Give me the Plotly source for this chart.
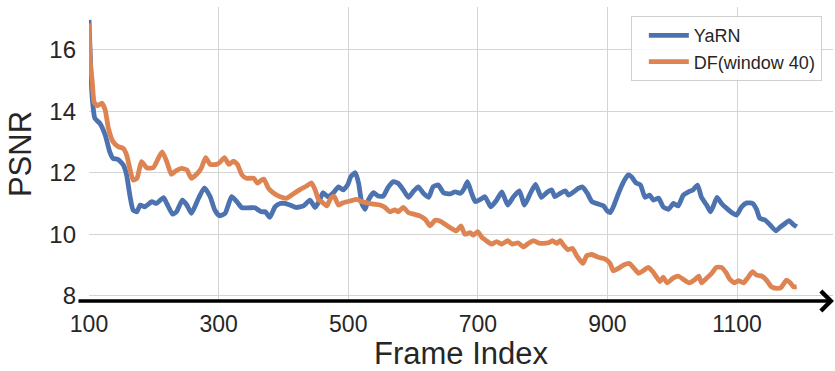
import plotly.graph_objects as go

# Frame indices and PSNR values for each method
yarn_frames = [100, 103, 105, 109, 117, 125, 132, 137, 145, 153, 158, 163, 168, 174, 179, 186, 197, 204,
               215, 220, 229, 235, 244, 251, 258, 269, 278, 287, 294, 301, 310, 320, 328, 336, 346, 356,
               361, 366, 372, 379, 387, 395, 402, 410, 420, 431, 441, 449, 456, 461, 469, 477, 485, 492,
               499, 504, 511, 516, 521, 526, 531, 539, 546, 554, 562, 570, 577, 585, 593, 600, 608, 616,
               624, 631, 639, 647, 657, 665, 673, 679, 684, 690, 696, 704, 711, 720, 729, 737, 746, 755,
               764, 772, 781, 789, 798, 806, 814, 819, 827, 835, 840, 848, 855, 861, 869, 876, 886, 894,
               899, 904, 909, 917, 925, 932, 937, 944, 951, 958, 965, 971, 979, 986, 994, 1002, 1009,
               1017, 1025, 1032, 1039, 1045, 1053, 1059, 1064, 1069, 1076, 1084, 1092, 1099, 1107, 1115,
               1124, 1130, 1135, 1143, 1151, 1160, 1166, 1174, 1180, 1186, 1192]
yarn_psnr = [16.97, 15.2, 14.42, 13.77, 13.6, 13.23, 12.68, 12.47, 12.43, 12.25, 11.93, 11.27, 10.79,
             10.73, 10.95, 10.89, 11.06, 11.0, 11.19, 11.0, 10.65, 10.73, 11.11, 10.95, 10.68, 11.17,
             11.51, 11.22, 10.79, 10.6, 10.68, 11.22, 11.06, 10.86, 10.86, 10.86, 10.79, 10.73, 10.73,
             10.55, 10.89, 11.0, 11.0, 10.95, 10.87, 10.92, 11.11, 10.87, 11.11, 11.35, 11.22, 11.35,
             11.54, 11.44, 11.6, 11.87, 12.0, 11.66, 11.0, 10.81, 11.11, 11.35, 11.24, 11.24, 11.54,
             11.71, 11.66, 11.44, 11.2, 11.38, 11.54, 11.33, 11.2, 11.54, 11.6, 11.35, 11.31, 11.38,
             11.33, 11.49, 11.71, 11.35, 11.06, 11.13, 11.22, 10.89, 11.11, 11.38, 10.95, 11.22, 11.41,
             10.95, 11.33, 11.62, 11.2, 11.35, 11.44, 11.22, 11.33, 11.41, 11.27, 11.38, 11.49, 11.54,
             11.33, 11.06, 10.98, 10.92, 10.77, 10.7, 10.89, 11.33, 11.71, 11.93, 11.87, 11.67, 11.6,
             11.2, 11.27, 11.11, 11.17, 10.89, 10.81, 11.0, 10.92, 11.27, 11.38, 11.44, 11.6, 11.2,
             10.95, 10.73, 10.95, 11.2, 11.0, 10.84, 10.7, 10.62, 10.89, 11.02, 11.0, 10.81, 10.52,
             10.46, 10.3, 10.11, 10.22, 10.35, 10.44, 10.33, 10.24]

df_frames = [100, 102, 105, 108, 113, 120, 125, 130, 137, 145, 153, 158, 163, 168, 174, 181, 189, 199,
             207, 213, 220, 227, 234, 243, 251, 258, 266, 273, 280, 287, 297, 302, 309, 316, 323, 329,
             336, 343, 354, 360, 366, 370, 377, 384, 395, 405, 415, 426, 436, 443, 449, 454, 461, 467,
             473, 478, 485, 492, 503, 513, 521, 529, 539, 549, 557, 564, 572, 577, 585, 593, 600, 611,
             619, 626, 634, 642, 651, 659, 667, 674, 680, 688, 693, 700, 706, 713, 721, 729, 737, 746,
             753, 762, 770, 778, 786, 793, 801, 809, 815, 822, 827, 832, 839, 846, 852, 862, 868, 876,
             886, 896, 904, 909, 917, 925, 934, 941, 948, 955, 963, 970, 976, 981, 986, 992, 1001,
             1009, 1017, 1026, 1034, 1041, 1045, 1053, 1061, 1068, 1076, 1083, 1089, 1096, 1102, 1110,
             1116, 1124, 1130, 1138, 1146, 1153, 1161, 1168, 1176, 1182, 1187, 1192]
df_psnr = [16.85, 15.6, 14.96, 14.29, 14.18, 14.26, 14.04, 13.44, 13.01, 12.85, 12.79, 12.58, 12.14,
           11.76, 11.82, 12.36, 12.16, 12.16, 12.47, 12.68, 12.36, 11.95, 12.06, 12.14, 12.09, 11.82,
           11.95, 12.14, 12.49, 12.27, 12.27, 12.34, 12.49, 12.27, 12.38, 12.27, 11.93, 11.82, 11.82,
           11.66, 11.76, 11.79, 11.49, 11.35, 11.22, 11.17, 11.31, 11.46, 11.57, 11.67, 11.44, 11.13,
           11.02, 10.92, 11.17, 11.24, 10.95, 11.02, 11.08, 11.13, 11.06, 11.02, 10.98, 10.95, 10.87,
           10.73, 10.79, 10.73, 10.87, 10.7, 10.66, 10.59, 10.48, 10.27, 10.45, 10.42, 10.3, 10.19,
           10.11, 10.27, 10.0, 10.05, 9.97, 10.08, 9.9, 9.79, 9.68, 9.76, 9.68, 9.79, 9.68, 9.72, 9.59,
           9.7, 9.79, 9.72, 9.7, 9.72, 9.79, 9.7, 9.79, 9.65, 9.5, 9.54, 9.32, 9.05, 9.3, 9.34, 9.25,
           9.2, 9.05, 8.81, 8.89, 9.0, 9.05, 8.89, 8.73, 8.81, 8.92, 8.78, 8.6, 8.46, 8.6, 8.42, 8.57,
           8.64, 8.53, 8.42, 8.51, 8.64, 8.42, 8.57, 8.73, 8.92, 8.92, 8.75, 8.53, 8.42, 8.49, 8.42,
           8.57, 8.78, 8.67, 8.64, 8.49, 8.29, 8.24, 8.27, 8.51, 8.42, 8.29, 8.29]

x_ticks = [100, 300, 500, 700, 900, 1100]
y_ticks = [8, 10, 12, 14, 16]

FONT = "Liberation Sans, Arial, sans-serif"
TEXT = "#262626"

fig = go.Figure()
fig.add_trace(go.Scatter(x=yarn_frames, y=yarn_psnr, mode="lines", name="YaRN",
                         line=dict(color="#4C72B0", width=4.8, shape="spline", smoothing=0.5)))
fig.add_trace(go.Scatter(x=df_frames, y=df_psnr, mode="lines", name="DF(window 40)",
                         line=dict(color="#DD8452", width=4.8, shape="spline", smoothing=0.5)))

fig.update_layout(
    width=835, height=371,
    margin=dict(l=89, r=2, t=7, b=70),
    paper_bgcolor="white", plot_bgcolor="white",
    font=dict(family=FONT, color=TEXT),
    showlegend=True,
    legend=dict(x=0.985, y=0.969, xanchor="right", yanchor="top",
                font=dict(size=18, color=TEXT), indentation=12, itemwidth=40,
                bgcolor="rgba(255,255,255,0.85)", bordercolor="#d0d0d0", borderwidth=1),
)
fig.update_xaxes(range=[100, 1248], tickvals=x_ticks, showgrid=True, gridcolor="#d4d4d4",
                 gridwidth=1.2, zeroline=False, showline=False, ticks="",
                 tickfont=dict(size=23), ticklabelstandoff=7,
                 title=dict(text="Frame Index", font=dict(size=31), standoff=7))
fig.update_yaxes(range=[7.828, 17.39], tickvals=y_ticks, showgrid=True, gridcolor="#d4d4d4",
                 gridwidth=1.2, zeroline=False, showline=False, ticks="",
                 tickfont=dict(size=24), ticklabelstandoff=12,
                 title=dict(text="PSNR", font=dict(size=31), standoff=8))

# Bold bottom axis drawn as an arrow
fig.add_annotation(xref="paper", yref="paper", x=1.0013, y=0, text="",
                   showarrow=True, axref="pixel", ayref="pixel", ax=-757, ay=0,
                   arrowhead=4, arrowsize=1.1, arrowwidth=3.5, arrowcolor="black",
                   standoff=0, startstandoff=0)

fig.write_html("out.html")
